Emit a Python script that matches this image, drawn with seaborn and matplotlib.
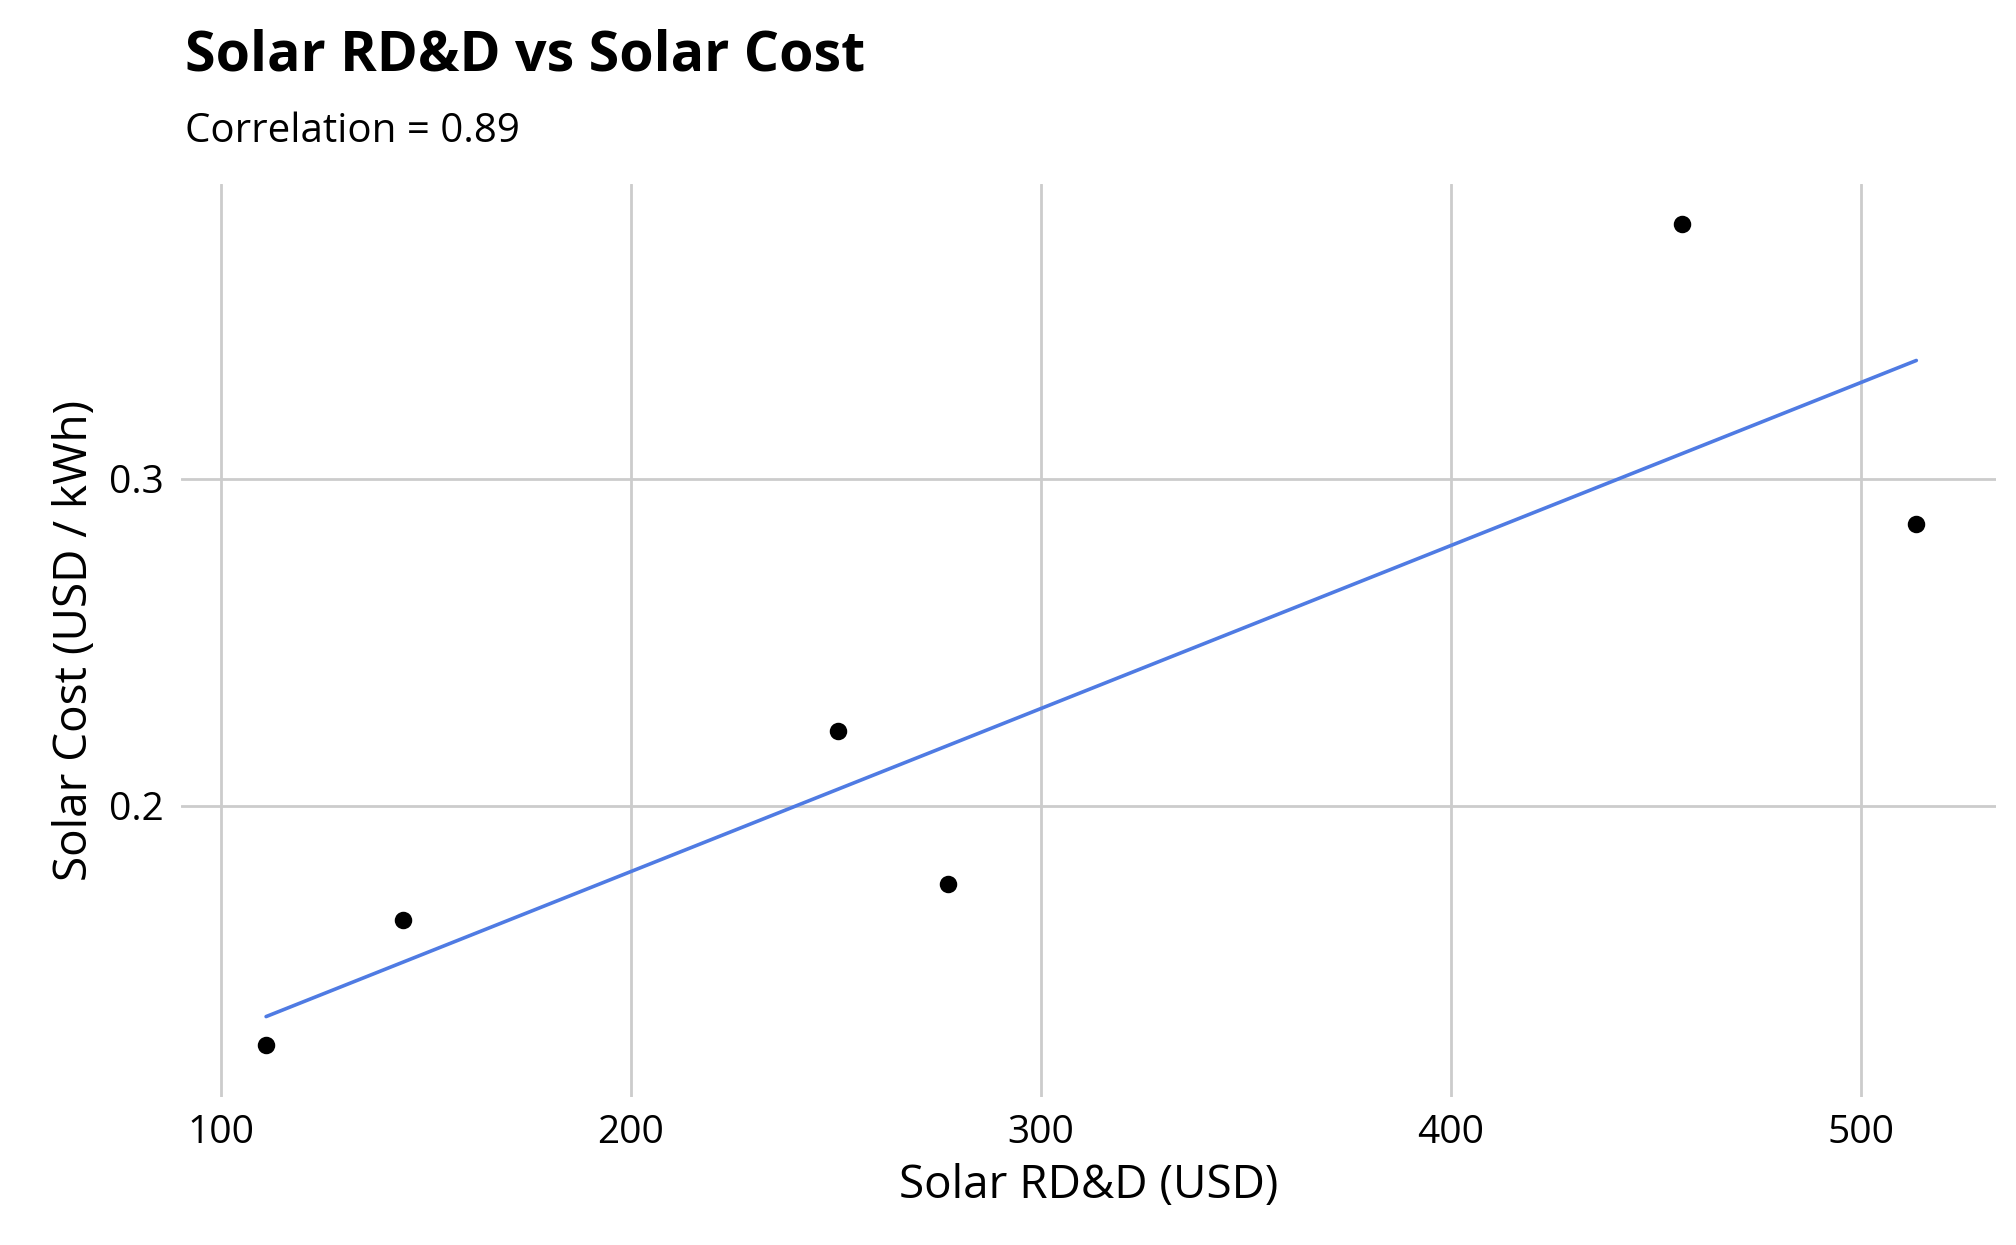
import seaborn as sns
import matplotlib.pyplot as plt
import pandas as pd

rdd = [111, 144.5, 250.5, 277.3, 456.5, 513.6]
cost = [0.127, 0.165, 0.223, 0.176, 0.378, 0.286]

df = pd.DataFrame({'rdd': rdd, 'cost': cost})

sns.set_style('white')
plt.rcParams['font.family'] = ['Open Sans', 'DejaVu Sans']
plt.rcParams['text.color'] = 'black'
plt.rcParams['axes.labelcolor'] = 'black'
plt.rcParams['xtick.color'] = 'black'
plt.rcParams['ytick.color'] = 'black'

fig = plt.figure(figsize=(10.08, 6.225), dpi=200)
ax = fig.add_axes([0.0897, 0.119, 0.9003, 0.733])

sns.regplot(data=df, x='rdd', y='cost', ci=None, ax=ax,
            scatter_kws={'color': 'black', 's': 28, 'alpha': 1, 'zorder': 3},
            line_kws={'color': '#4f7be3', 'lw': 1.3})

ax.set_xlim(90.2, 533)
ax.set_ylim(0.111, 0.39)
ax.set_xticks([100, 200, 300, 400, 500])
ax.set_yticks([0.2, 0.3])
ax.set_yticklabels(['0.2', '0.3'])
ax.grid(True, color='#cccccc', lw=1)
ax.set_axisbelow(True)
for s in ax.spines.values():
    s.set_visible(False)
ax.tick_params(labelsize=14, length=0, pad=6)
ax.set_xlabel('Solar RD&D (USD)', fontsize=16.5)
ax.set_ylabel('Solar Cost (USD / kWh)', fontsize=16.5)

fig.text(0.0917, 0.943, 'Solar RD&D vs Solar Cost', fontsize=20,
         fontweight='bold', va='baseline')
fig.text(0.0917, 0.886, 'Correlation = 0.89', fontsize=14.5, va='baseline')

fig.savefig('out.png', dpi=200)
